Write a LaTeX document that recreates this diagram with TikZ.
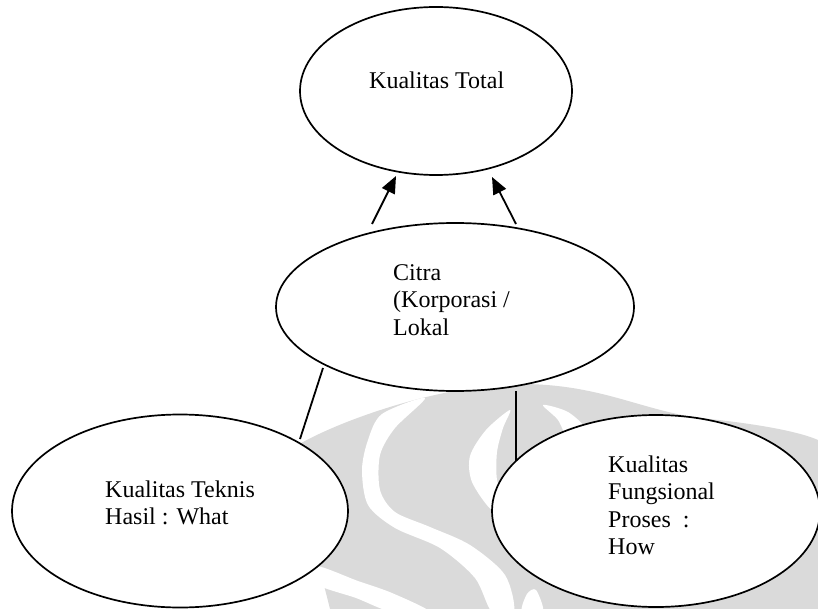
\documentclass[tikz,border=0pt]{standalone}
\usepackage{fontspec}
\setmainfont{Liberation Serif}
\usetikzlibrary{arrows.meta,shapes.geometric}
\definecolor{markgray}{RGB}{218,218,218}
\tikzset{
  bubble/.style={ellipse, draw=black, line width=1.7pt, fill=white, inner sep=0pt},
  caption/.style={anchor=base west, inner sep=0pt, font=\fontsize{24pt}{27.5pt}\selectfont},
  link/.style={line width=1.8pt},
  arr/.style={line width=1.8pt, -{Triangle[length=17pt,width=14pt]}},
}
\newcommand{\lines}[1]{\begin{tabular}[t]{@{}l@{}}#1\end{tabular}}
\begin{document}
\begin{tikzpicture}[x=1pt,y=-1pt]
\useasboundingbox (0,0) rectangle (818,609);
\fill[white] (0,0) rectangle (818,609);

% faint emblem in the background
\fill[markgray] (296,446) .. controls (340,420) and (440,385) .. (520,384)
  .. controls (600,384) and (640,410) .. (700,418)
  .. controls (760,424) and (800,432) .. (818,440)
  -- (818,609) -- (330,609) .. controls (318,560) and (300,500) .. cycle;
\fill[white] plot[smooth cycle] coordinates {(382,414) (368,440) (362,470) (368,505)
  (395,528) (440,548) (475,578) (492,612) (514,612) (505,575) (470,545)
  (430,527) (395,512) (380,490) (380,455) (395,428) (425,398)};
\fill[white] plot[smooth cycle] coordinates {(510,410) (486,430) (470,456) (472,482)
  (492,510) (505,500) (497,480) (497,452) (503,428)};
\fill[white] plot[smooth cycle] coordinates {(543,405) (558,420) (570,442) (586,430)
  (568,412)};
\fill[white] plot[smooth cycle] coordinates {(316,566) (358,581) (392,593) (430,612)
  (392,612) (356,598) (316,584)};
\fill[white] plot[smooth cycle] coordinates {(522,612) (527,594) (536,590) (543,612)};

% ellipses
\node[bubble, minimum width=272pt, minimum height=168pt] (total) at (436,91) {};
\node[bubble, minimum width=358pt, minimum height=168pt] (citra) at (455,307) {};
\node[bubble, minimum width=336pt, minimum height=193pt] (teknis) at (180,511) {};
\node[bubble, minimum width=328pt, minimum height=192pt] (fungsi) at (656,511) {};

% texts
\node[caption] (ttotal) at (369,89) {Kualitas Total};
\node[caption] (tcitra) at (393,280) {\lines{Citra\\(Korporasi /\\Lokal}};
\node[caption] (tteknis) at (105,497) {\lines{Kualitas Teknis\\Hasil : What}};
\node[caption] (tfungsi) at (608,472) {\lines{Kualitas\\Fungsional\\Proses~~:\\How}};

% connectors
\draw[arr] ([shift={(-83,-83)}]citra.center) -- ([shift={(-40,85)}]total.center);
\draw[arr] ([shift={(61,-83)}]citra.center) -- ([shift={(56,86)}]total.center);
\draw[link] ([shift={(-132,61)}]citra.center) -- ([shift={(120,-72)}]teknis.center);
\draw[link] ([shift={(61,84)}]citra.center) -- ([shift={(-140,-50)}]fungsi.center);
\end{tikzpicture}
\end{document}
